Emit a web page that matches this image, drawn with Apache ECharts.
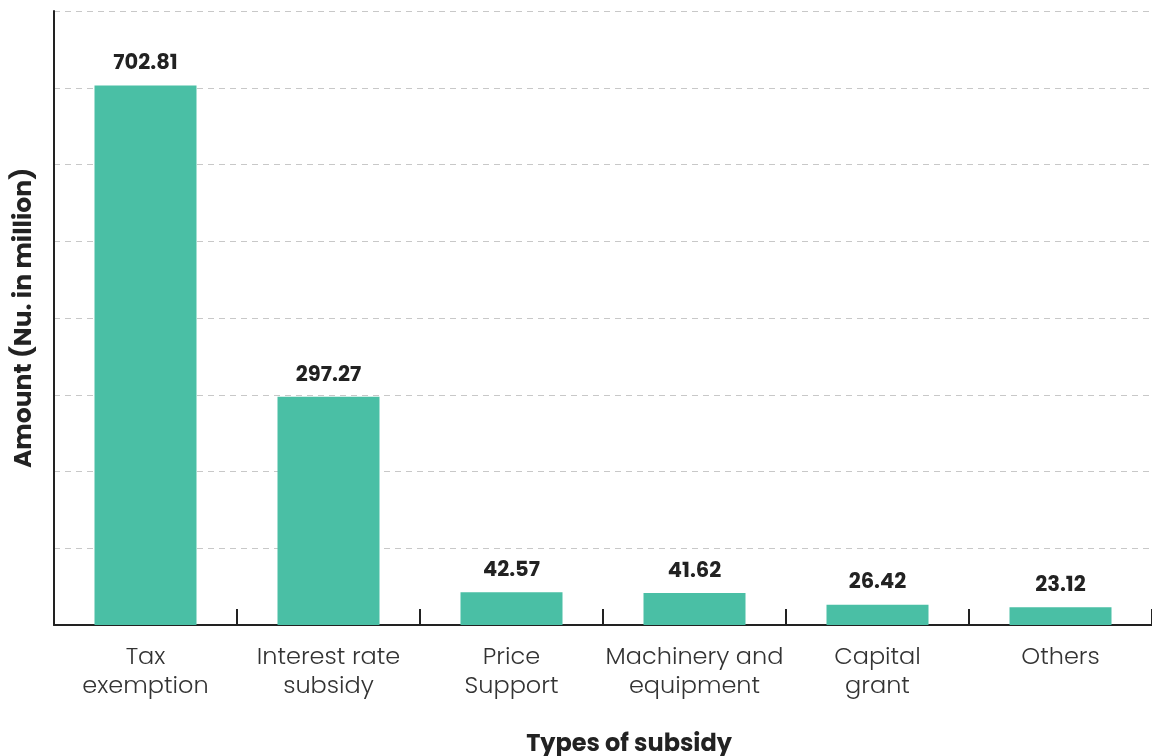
<!DOCTYPE html>
<html>
<head>
<meta charset="utf-8">
<script src="https://cdn.jsdelivr.net/npm/echarts@6/dist/echarts.min.js"></script>
<style>
  html, body { margin: 0; padding: 0; background: #ffffff; }
  #chart { width: 1152px; height: 756px; }
</style>
</head>
<body>
<div id="chart"></div>
<script>
// Subsidy types and amounts (Nu. in million)
const categories = ['Tax\nexemption', 'Interest rate\nsubsidy', 'Price\nSupport', 'Machinery and\nequipment', 'Capital\ngrant', 'Others'];
const amounts = [702.81, 297.27, 42.57, 41.62, 26.42, 23.12];

const FONT = 'Poppins, Lato, "Open Sans", sans-serif';
const chart = echarts.init(document.getElementById('chart'));

chart.setOption({
  animation: false,
  backgroundColor: '#ffffff',
  textStyle: { fontFamily: FONT },
  grid: { left: 54, right: 0, top: 11, bottom: 131, containLabel: false },
  title: {
    text: 'Types of subsidy',
    left: 624,
    top: 728,
    textAlign: 'center',
    textStyle: { fontFamily: FONT, fontSize: 24, fontWeight: 'bold', color: '#222222' }
  },
  xAxis: {
    type: 'category',
    data: categories,
    boundaryGap: true,
    axisLine: { show: true, lineStyle: { color: '#222222', width: 2 } },
    axisTick: { show: true, inside: true, length: 16, lineStyle: { color: '#222222', width: 2 } },
    axisLabel: {
      color: '#333333',
      fontFamily: FONT,
      fontSize: 24,
      fontWeight: 300,
      lineHeight: 29,
      margin: 18,
      interval: 0
    },
    splitLine: { show: false }
  },
  yAxis: {
    type: 'value',
    min: 0,
    max: 800,
    interval: 100,
    name: 'Amount (Nu. in million)',
    nameLocation: 'middle',
    nameGap: 17,
    nameRotate: 90,
    nameTextStyle: { fontFamily: FONT, fontSize: 25, fontWeight: 'bold', color: '#222222' },
    axisLine: { show: true, lineStyle: { color: '#222222', width: 2 } },
    axisTick: { show: false },
    axisLabel: { show: false },
    splitLine: { show: true, lineStyle: { color: '#c8c8c8', type: [6, 5], width: 1 } }
  },
  series: [{
    type: 'bar',
    data: amounts,
    barWidth: 102,
    itemStyle: { color: '#4ABFA5' },
    label: {
      show: true,
      position: 'top',
      distance: 11,
      fontFamily: FONT,
      fontSize: 21,
      fontWeight: 'bold',
      color: '#222222',
      formatter: p => p.value.toFixed(2)
    }
  }]
});
</script>
</body>
</html>
